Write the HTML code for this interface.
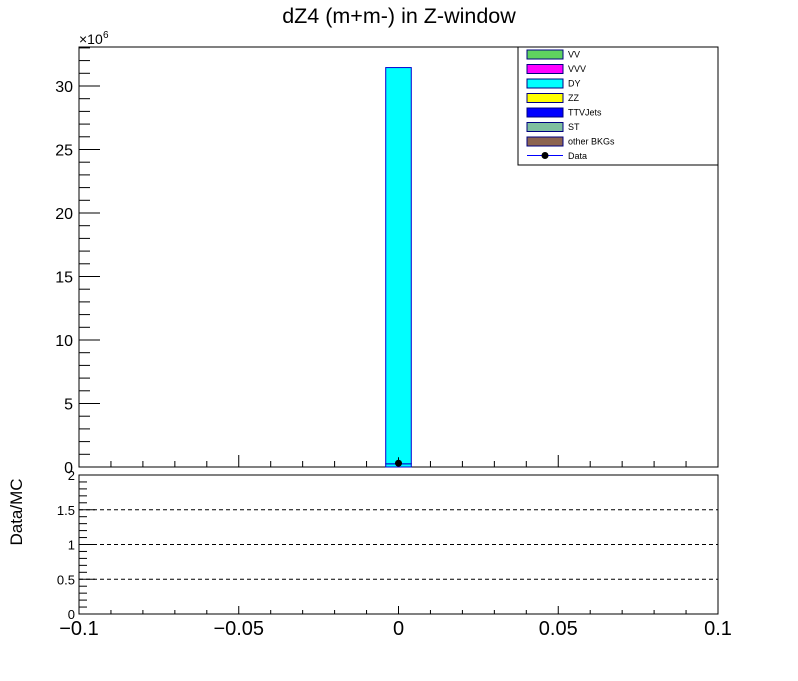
<!DOCTYPE html>
<html><head><meta charset="utf-8"><style>
body{margin:0;background:#fff;}
svg text{font-family:"Liberation Sans",Arial,sans-serif;}
</style></head><body>
<svg id="c" width="798" height="676" viewBox="0 0 798 676" xmlns="http://www.w3.org/2000/svg">
<rect width="798" height="676" fill="#fff"/>
<text x="399" y="23" font-size="21.5" text-anchor="middle">dZ4 (m+m-) in Z-window</text>
<g id="top"></g><g id="bot"></g>
<text transform="translate(22,512) rotate(-90)" font-size="17" text-anchor="middle">Data/MC</text>
<g id="legend"></g>
</svg>
<script>
const binLow = [-0.004];
const binHigh = [0.004];
const dyValues = [31.2];
const ttvValues = [0.25];
const dataValues = [0.3];
const ratioValues = [0.01];
const yTicks = [0,5,10,15,20,25,30];
const xTicks = [-0.1,-0.05,0,0.05,0.1];
const xTickLabels = ["\u22120.1","\u22120.05","0","0.05","0.1"];
const rTicks = [0,0.5,1,1.5,2];
const rTickLabels = ["0","0.5","1","1.5","2"];
const legendNames = ["VV","VVV","DY","ZZ","TTVJets","ST","other BKGs","Data"];
const legendColors = ["#5fd35f","#ff00ff","#00ffff","#ffff00","#0000ff","#7fbf9f","#8c6450",null];

const NS="http://www.w3.org/2000/svg";
const L=79,R=718,T=47,B=467,RT=475,RB=614;
const X=v=>L+(v+0.1)/0.2*(R-L);
const Y=v=>B-v/33.07*(B-T);
const RY=v=>RB-v/2*(RB-RT);
function mk(p,tag,a,txt){const e=document.createElementNS(NS,tag);for(const k in a)e.setAttribute(k,a[k]);if(txt!==undefined)e.textContent=txt;document.getElementById(p).appendChild(e);return e;}

let e=mk('top','rect',{x:L,y:T,width:R-L,height:B-T,fill:'none',stroke:'#000','stroke-width':1});


for(let v=0;v<=33;v++){const y=Y(v);const maj=v%5==0;
 mk('top','line',{x1:L,x2:L+(maj?21:11),y1:y,y2:y,stroke:'#000'});}
yTicks.forEach(v=>{e=mk('top','text',{x:L-6,y:Y(v)+6,'font-size':16,'text-anchor':'end'},String(v));
 
 });
e=mk('top','text',{x:L,y:T-3,'font-size':14},'\u00d710');


mk('top','text',{x:L+24,y:T-9,'font-size':10},'6');
for(let i=0;i<=20;i++){const v=-0.1+i*0.01;const x=X(v);const maj=i%5==0;
 mk('top','line',{x1:x,x2:x,y1:B,y2:B-(maj?12:6),stroke:'#000'});
 mk('bot','line',{x1:x,x2:x,y1:RB,y2:RB-(maj?8:4),stroke:'#000'});}
binLow.forEach((lo,i)=>{const x1=X(lo),x2=X(binHigh[i]);
 e=mk('top','rect',{x:x1,y:Y(ttvValues[i]),width:x2-x1,height:Y(0)-Y(ttvValues[i]),fill:'#00ffff',stroke:'#0000cc'});
 
 
 e=mk('top','rect',{x:x1,y:Y(ttvValues[i]+dyValues[i]),width:x2-x1,height:Y(ttvValues[i])-Y(ttvValues[i]+dyValues[i]),fill:'#00ffff',stroke:'#0000cc'});
 
 
 e=mk('top','circle',{cx:(x1+x2)/2,cy:Y(dataValues[i]),r:3.5,fill:'#000'});
 
 
 mk('top','line',{x1:(x1+x2)/2,x2:(x1+x2)/2,y1:Y(dataValues[i])-6,y2:Y(dataValues[i]),stroke:'#000'});
});
e=mk('bot','rect',{x:L,y:RT,width:R-L,height:RB-RT,fill:'none',stroke:'#000'});


for(let i=0;i<=20;i++){const v=i*0.1;mk('bot','line',{x1:L,x2:L+(i%5==0?16:8),y1:RY(v),y2:RY(v),stroke:'#000'});}
[0.5,1,1.5].forEach(v=>{e=mk('bot','line',{x1:L,x2:R,y1:RY(v),y2:RY(v),stroke:'#000','stroke-dasharray':'4,3'});
 
 });
rTicks.forEach((v,i)=>{e=mk('bot','text',{x:L-4,y:RY(v)+5,'font-size':13,'text-anchor':'end'},rTickLabels[i]);
 
 });
xTicks.forEach((v,i)=>{e=mk('bot','text',{x:X(v),y:RB+21,'font-size':20,'text-anchor':'middle'},xTickLabels[i]);
 
 });
e=mk('legend','rect',{x:518,y:47,width:200,height:118,fill:'#fff',stroke:'#000'});


legendNames.forEach((n,i)=>{const y=54+i*14.5;
 if(legendColors[i]){e=mk('legend','rect',{x:527,y:y-4,width:36,height:9,fill:legendColors[i],stroke:'#000080'});}
 else{mk('legend','line',{x1:527,x2:563,y1:y,y2:y,stroke:'#0000ff'});e=mk('legend','circle',{cx:545,cy:y,r:3.5,fill:'#000'});}
 
 
 e=mk('legend','text',{x:568,y:y+3.5,'font-size':9},n);
 
 
});
</script>
</body></html>
